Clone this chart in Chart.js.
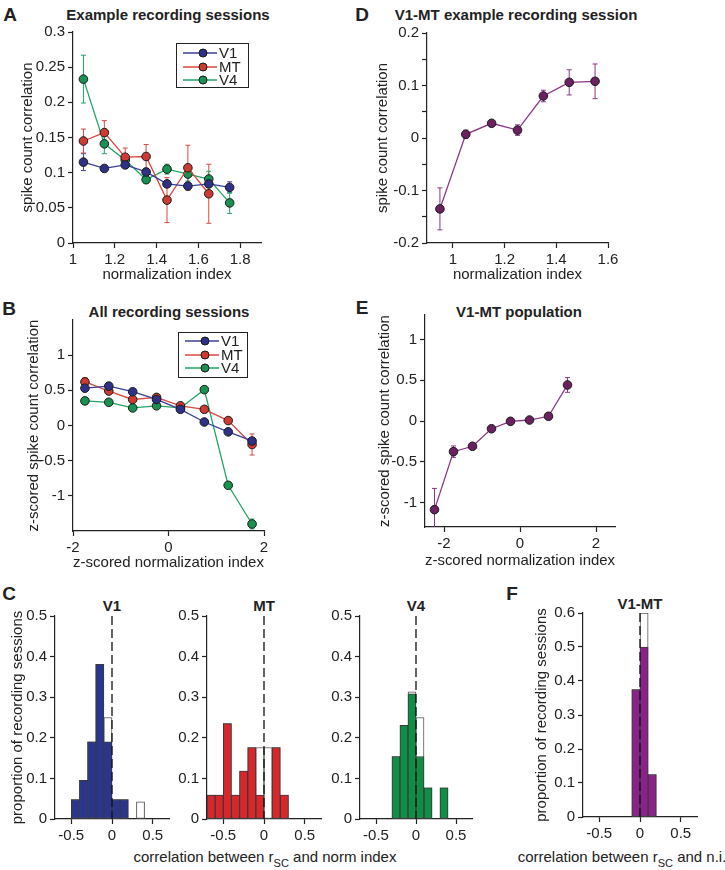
<!DOCTYPE html>
<html>
<head>
<meta charset="utf-8">
<script src="https://cdn.jsdelivr.net/npm/chart.js"></script>
<style>
  body { margin: 0; background: #fff; }
  #fig { position: relative; width: 725px; height: 870px; overflow: hidden;
         font-family: "Liberation Sans", Arial, sans-serif; color: #222; }
  #fig canvas { position: absolute; }
  .lbl { position: absolute; transform: translate(-50%, -50%); white-space: nowrap; line-height: 1; }
  .letter { font-weight: bold; font-size: 19px; }
  .title { font-weight: bold; font-size: 15px; }
  .axt { font-size: 15px; }
  .axt sub { font-size: 11px; vertical-align: -5px; line-height: 0; }
</style>
</head>
<body>
<div id="fig">
  <div class="lbl letter" style="left:10px;top:14px">A</div>
  <div class="lbl title" style="left:168px;top:14px">Example recording sessions</div>
  <div class="lbl letter" style="left:9px;top:308px">B</div>
  <div class="lbl title" style="left:169px;top:311px">All recording sessions</div>
  <div class="lbl letter" style="left:9px;top:593px">C</div>
  <div class="lbl title" style="left:112px;top:605px">V1</div>
  <div class="lbl title" style="left:264px;top:605px">MT</div>
  <div class="lbl title" style="left:416px;top:605px">V4</div>
  <div class="lbl axt" style="left:265px;top:856px">correlation between r<sub>SC</sub> and norm index</div>
  <div class="lbl letter" style="left:362px;top:14px">D</div>
  <div class="lbl title" style="left:516px;top:14px">V1-MT example recording session</div>
  <div class="lbl letter" style="left:362px;top:307px">E</div>
  <div class="lbl title" style="left:519px;top:311px">V1-MT population</div>
  <div class="lbl letter" style="left:512px;top:593px">F</div>
  <div class="lbl title" style="left:640px;top:603px">V1-MT</div>
  <div class="lbl axt" style="left:622px;top:856px">correlation between r<sub>SC</sub> and n.i.</div>
</div>
<script>
// A: example sessions
const aX = [1.05, 1.15, 1.25, 1.35, 1.45, 1.55, 1.65, 1.75];
const aV1 = [0.115, 0.106, 0.111, 0.101, 0.084, 0.081, 0.084, 0.079];
const aV1Err = [0.012, 0.004, 0.004, 0.005, 0.004, 0.004, 0.004, 0.008];
const aMT = [0.145, 0.157, 0.122, 0.123, 0.061, 0.107, 0.070];
const aMTErr = [0.017, 0.017, 0.013, 0.017, 0.032, 0.032, 0.042];
const aV4 = [0.233, 0.141, 0.118, 0.090, 0.105, 0.098, 0.091, 0.057];
const aV4Err = [0.034, 0.014, 0.006, 0.005, 0.007, 0.010, 0.011, 0.015];
const aXTicks = [1, 1.2, 1.4, 1.6, 1.8];
const aYTicks = [0, 0.05, 0.1, 0.15, 0.2, 0.25, 0.3];

// B: all sessions
const bX = [-1.75, -1.25, -0.75, -0.25, 0.25, 0.75, 1.25, 1.75];
const bV1 = [0.53, 0.56, 0.48, 0.37, 0.23, 0.05, -0.09, -0.22];
const bV1Err = [0.03, 0.02, 0.02, 0.02, 0.02, 0.02, 0.02, 0.04];
const bMT = [0.62, 0.49, 0.37, 0.40, 0.28, 0.23, 0.07, -0.27];
const bMTErr = [0.06, 0.03, 0.02, 0.02, 0.02, 0.02, 0.03, 0.15];
const bV4 = [0.35, 0.33, 0.25, 0.28, 0.25, 0.51, -0.85, -1.40];
const bV4Err = [0.02, 0.02, 0.02, 0.02, 0.02, 0.02, 0.03, 0.07];
const bXTicks = [-2, 0, 2];
const bYTicks = [-1, -0.5, 0, 0.5, 1];

// D: V1-MT example session
const dX = [0.95, 1.05, 1.15, 1.25, 1.35, 1.45, 1.55];
const dY = [-0.135, 0.007, 0.028, 0.015, 0.080, 0.106, 0.108];
const dErr = [0.040, 0.008, 0.004, 0.010, 0.011, 0.024, 0.033];
const dXTicks = [1, 1.2, 1.4, 1.6];
const dYTicks = [-0.2, -0.15, -0.1, -0.05, 0, 0.05, 0.1, 0.15, 0.2];
const dYLabels = [-0.2, -0.1, 0, 0.1, 0.2];

// E: V1-MT population
const eX = [-2.25, -1.75, -1.25, -0.75, -0.25, 0.25, 0.75, 1.25];
const eY = [-1.087, -0.376, -0.31, -0.095, -0.004, 0.012, 0.058, 0.442];
const eErr = [0.26, 0.07, 0.02, 0.02, 0.01, 0.01, 0.01, 0.09];
const eXTicks = [-2, 0, 2];
const eYTicks = [-1, -0.5, 0, 0.5, 1];

// C and F: histograms (coloured = significant, white = all)
const hXTicks = [-0.5, 0, 0.5];
const hYTicks = [0, 0.1, 0.2, 0.3, 0.4, 0.5];
const fYTicks = [0, 0.1, 0.2, 0.3, 0.4, 0.5, 0.6];
const v1Bins = [-0.45, -0.35, -0.25, -0.15, -0.05, 0.05, 0.15, 0.35];
const v1Sig = [0.048, 0.095, 0.19, 0.381, 0.19, 0.048, 0.048, 0];
const v1All = [0.048, 0.095, 0.19, 0.381, 0.25, 0.048, 0.048, 0.042];
const mtBins = [-0.65, -0.55, -0.45, -0.35, -0.25, -0.15, -0.05, 0.05, 0.15, 0.25];
const mtSig = [0.059, 0.059, 0.235, 0.059, 0.118, 0.176, 0.059, 0, 0.176, 0.059];
const mtAll = [0.059, 0.059, 0.235, 0.059, 0.118, 0.176, 0.176, 0.176, 0.176, 0.059];
const v4Bins = [-0.25, -0.15, -0.05, 0.05, 0.15, 0.35];
const v4Sig = [0.154, 0.231, 0.308, 0.154, 0.077, 0.077];
const v4All = [0.154, 0.231, 0.313, 0.25, 0.077, 0.077];
const fBins = [-0.05, 0.05, 0.15];
const fSig = [0.375, 0.5, 0.125];
const fAll = [0.375, 0.6, 0.125];

const FONT = "'Liberation Sans', Arial, sans-serif";
const INK = '#222';
const PAD_T = 12, PAD_R = 20;
const fig = document.getElementById('fig');
const tickFont = { family: FONT, size: 15 };

const col = {
  v1: { line: '#3b3f9a', fill: '#2e3186', bar: '#2a3590' },
  mt: { line: '#d94841', fill: '#cc3a32', bar: '#d8262b' },
  v4: { line: '#21a565', fill: '#199150', bar: '#0e8f45' },
  pm: { line: '#8a3786', fill: '#6b2160', bar: '#8b2289' }
};

function fmt(v) { return String(+v.toFixed(2)); }

function scale(min, max, ticks, cfg) {
  cfg = cfg || {};
  return {
    type: 'linear', min: min, max: max, offset: false,
    afterBuildTicks: s => { s.ticks = ticks.map(v => ({ value: v })); },
    grid: { drawOnChartArea: false, tickLength: 5, tickColor: INK, tickWidth: 1.2, offset: false },
    border: { color: INK, width: 1.2 },
    ticks: {
      font: tickFont, color: INK, padding: 3, maxRotation: 0, autoSkip: false,
      callback: v => (!cfg.labels || cfg.labels.some(l => Math.abs(l - v) < 1e-9)) ? fmt(v) : ''
    },
    title: { display: !!cfg.title, text: cfg.title || '', font: tickFont, color: INK, padding: 0 }
  };
}

const errorBars = {
  id: 'errorBars',
  beforeDatasetsDraw(chart) {
    const { ctx, chartArea: a, scales: { x, y } } = chart;
    ctx.save();
    ctx.beginPath();
    ctx.rect(a.left, a.top, a.right - a.left, a.bottom - a.top);
    ctx.clip();
    chart.data.datasets.forEach(ds => {
      if (!ds.err) return;
      ctx.strokeStyle = ds.borderColor;
      ctx.lineWidth = 1;
      ds.data.forEach((p, i) => {
        const px = x.getPixelForValue(p.x);
        const lo = y.getPixelForValue(p.y - ds.err[i]);
        const hi = y.getPixelForValue(p.y + ds.err[i]);
        ctx.beginPath();
        ctx.moveTo(px, lo); ctx.lineTo(px, hi);
        ctx.moveTo(px - 2.5, lo); ctx.lineTo(px + 2.5, lo);
        ctx.moveTo(px - 2.5, hi); ctx.lineTo(px + 2.5, hi);
        ctx.stroke();
      });
    });
    ctx.restore();
  }
};

const boxLegend = {
  id: 'boxLegend',
  afterDatasetsDraw(chart, args, o) {
    const { ctx, chartArea: a } = chart;
    const bx = a.right - o.right - o.w, by = a.top + o.top;
    ctx.save();
    ctx.fillStyle = '#fff';
    ctx.fillRect(bx, by, o.w, o.h);
    ctx.strokeStyle = INK; ctx.lineWidth = 1;
    ctx.strokeRect(bx + 0.5, by + 0.5, o.w, o.h);
    ctx.font = '15px ' + FONT;
    ctx.textBaseline = 'middle';
    chart.data.datasets.forEach((ds, i) => {
      const ry = by + o.rows[i];
      ctx.strokeStyle = ds.borderColor; ctx.lineWidth = 1.3;
      ctx.beginPath(); ctx.moveTo(bx + 7, ry); ctx.lineTo(bx + 41, ry); ctx.stroke();
      ctx.beginPath(); ctx.arc(bx + 27, ry, 4, 0, Math.PI * 2);
      ctx.fillStyle = ds.pointBackgroundColor; ctx.fill();
      ctx.strokeStyle = '#1a1a1a'; ctx.lineWidth = 1; ctx.stroke();
      ctx.fillStyle = INK;
      ctx.fillText(ds.label, bx + 43, ry + 1);
    });
    ctx.restore();
  }
};

const zeroLine = {
  id: 'zeroLine',
  afterDatasetsDraw(chart) {
    const { ctx, scales: { x, y } } = chart;
    const px = x.getPixelForValue(0);
    ctx.save();
    ctx.setLineDash([9, 4]);
    ctx.strokeStyle = '#111'; ctx.lineWidth = 1.3;
    ctx.beginPath();
    ctx.moveTo(px, y.getPixelForValue(y.max));
    ctx.lineTo(px, y.getPixelForValue(0));
    ctx.stroke();
    ctx.restore();
  }
};

function line(label, xs, ys, err, c) {
  return {
    label: label, err: err,
    data: ys.map((v, i) => ({ x: xs[i], y: v })),
    borderColor: c.line, backgroundColor: c.fill, borderWidth: 1.3,
    pointRadius: 4.3, pointBackgroundColor: c.fill, pointBorderColor: '#1a1a1a', pointBorderWidth: 1
  };
}

function bars(xs, vals, fill, edge, order) {
  return {
    type: 'bar', order: order, grouped: false,
    data: xs.map((x, i) => ({ x: x, y: vals[i] || null })),
    backgroundColor: fill, borderColor: edge, borderWidth: 1, borderSkipped: false,
    barPercentage: 1, categoryPercentage: 1
  };
}

function panel(box, padL, padB, type, datasets, xs, ys, plugins, opts) {
  const c = document.createElement('canvas');
  const w = box.r - box.l + padL + PAD_R, h = box.b - box.t + PAD_T + padB;
  c.width = w; c.height = h;
  c.style.left = (box.l - padL) + 'px';
  c.style.top = (box.t - PAD_T) + 'px';
  c.style.width = w + 'px'; c.style.height = h + 'px';
  fig.appendChild(c);
  xs.afterFit = s => { s.height = padB; };
  ys.afterFit = s => { s.width = padL; };
  return new Chart(c, {
    type: type,
    data: { datasets: datasets },
    options: {
      responsive: false, animation: false, devicePixelRatio: 1,
      layout: { padding: { top: PAD_T, right: PAD_R, left: 0, bottom: 0 } },
      scales: { x: xs, y: ys },
      plugins: Object.assign({ legend: { display: false }, tooltip: { enabled: false } }, opts || {})
    },
    plugins: plugins
  });
}

// A
panel({ l: 73, t: 32, r: 261, b: 243 }, 54, 41, 'line',
  [line('V1', aX, aV1, aV1Err, col.v1), line('MT', aX, aMT, aMTErr, col.mt), line('V4', aX, aV4, aV4Err, col.v4)],
  scale(1, 1.9, aXTicks, { title: 'normalization index' }),
  scale(0, 0.3, aYTicks, { title: 'spike count correlation' }),
  [errorBars, boxLegend], { boxLegend: { right: 13, top: 11, w: 72, h: 44, rows: [10, 24, 37] } });

// B
panel({ l: 73, t: 320, r: 264, b: 531 }, 48, 41, 'line',
  [line('V1', bX, bV1, bV1Err, col.v1), line('MT', bX, bMT, bMTErr, col.mt), line('V4', bX, bV4, bV4Err, col.v4)],
  scale(-2, 2, bXTicks, { title: 'z-scored normalization index' }),
  scale(-1.5, 1.5, bYTicks, { title: 'z-scored spike count correlation' }),
  [errorBars, boxLegend], { boxLegend: { right: 17, top: 12, w: 69, h: 45, rows: [9, 23, 36] } });

// D
panel({ l: 427, t: 33, r: 608, b: 243 }, 53, 41, 'line',
  [line('V1-MT', dX, dY, dErr, col.pm)],
  scale(0.9, 1.6, dXTicks, { title: 'normalization index' }),
  scale(-0.2, 0.2, dYTicks, { title: 'spike count correlation', labels: dYLabels }),
  [errorBars]);

// E
panel({ l: 425, t: 315, r: 615, b: 527 }, 49, 43, 'line',
  [line('V1-MT', eX, eY, eErr, col.pm)],
  scale(-2.5, 2.5, eXTicks, { title: 'z-scored normalization index' }),
  scale(-1.3, 1.3, eYTicks, { title: 'z-scored spike count correlation' }),
  [errorBars]);

// C
panel({ l: 55, t: 616, r: 169, b: 819 }, 46, 30, 'bar',
  [bars(v1Bins, v1Sig, col.v1.bar, '#3a3a3a', 0), bars(v1Bins, v1All, '#fff', '#555', 1)],
  scale(-0.7, 0.7, hXTicks), scale(0, 0.5, hYTicks, { title: 'proportion of recording sessions' }),
  [zeroLine]);
panel({ l: 207, t: 616, r: 321, b: 819 }, 40, 30, 'bar',
  [bars(mtBins, mtSig, col.mt.bar, '#3a3a3a', 0), bars(mtBins, mtAll, '#fff', '#555', 1)],
  scale(-0.7, 0.7, hXTicks), scale(0, 0.5, hYTicks), [zeroLine]);
panel({ l: 360, t: 616, r: 472, b: 819 }, 40, 30, 'bar',
  [bars(v4Bins, v4Sig, col.v4.bar, '#3a3a3a', 0), bars(v4Bins, v4All, '#fff', '#555', 1)],
  scale(-0.7, 0.7, hXTicks), scale(0, 0.5, hYTicks), [zeroLine]);

// F
panel({ l: 583, t: 613, r: 697, b: 817 }, 50, 30, 'bar',
  [bars(fBins, fSig, col.pm.bar, '#3a3a3a', 0), bars(fBins, fAll, '#fff', '#555', 1)],
  scale(-0.7, 0.7, hXTicks), scale(0, 0.6, fYTicks, { title: 'proportion of recording sessions' }),
  [zeroLine]);
</script>
</body>
</html>
